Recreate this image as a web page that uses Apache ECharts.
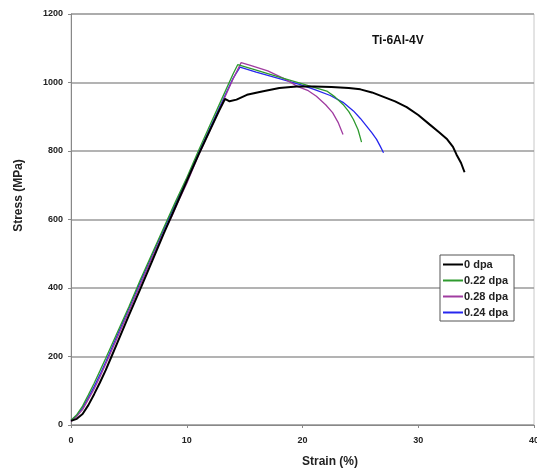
<!DOCTYPE html>
<html>
<head>
<meta charset="utf-8">
<script src="https://cdn.jsdelivr.net/npm/echarts@6/dist/echarts.min.js"></script>
<style>html,body{margin:0;padding:0;background:#fff}#c{width:537px;height:470px}</style>
</head>
<body>
<div id="c"></div>
<script>
var chartTitle = 'Ti-6Al-4V';
var xTitle = 'Strain (%)';
var yTitle = 'Stress (MPa)';
var seriesNames = ['0 dpa', '0.22 dpa', '0.28 dpa', '0.24 dpa'];
var seriesColors = ['#000000', '#2e9a2e', '#a03ca0', '#2626ee'];

var strain0 = [0, 0.5, 1, 1.5, 2, 2.5, 3, 3.5, 4, 5, 6, 7, 8, 9, 10, 11, 12, 12.8, 13.3, 13.7, 14.3, 15.2, 16.5, 18, 19.5, 21, 22.5, 24, 25, 26, 27, 28, 29, 30, 31, 31.8, 32.5, 33, 33.3, 33.7, 34.0];
var stress0 = [12, 18, 32, 58, 90, 124, 160, 200, 240, 320, 398, 478, 558, 635, 712, 788, 860, 918, 952, 945, 950, 964, 974, 984, 988, 988, 987, 984, 980, 971, 958, 945, 928, 905, 877, 855, 834, 812, 790, 765, 738];

var strain1 = [0, 0.5, 1, 1.5, 2, 2.5, 3, 4, 5, 6, 7, 8, 9, 10, 11, 12, 13, 14, 14.4, 16, 18, 20, 21, 22.1, 22.8, 23.5, 24.0, 24.4, 24.8, 25.1];
var stress1 = [14, 30, 55, 88, 122, 158, 195, 270, 345, 425, 500, 575, 650, 722, 800, 875, 950, 1025, 1052, 1036, 1016, 996, 986, 975, 958, 936, 915, 892, 862, 826];

var strain2 = [0, 0.5, 1, 1.5, 2, 2.5, 3, 4, 5, 6, 7, 8, 8.7, 9.3, 10, 11, 12, 13, 14, 14.7, 15.5, 17, 18.5, 19.6, 20.5, 21.2, 22.0, 22.6, 23.1, 23.5];
var stress2 = [10, 25, 45, 75, 105, 140, 178, 255, 332, 410, 488, 562, 608, 655, 705, 786, 860, 935, 1010, 1058, 1050, 1034, 1010, 988, 976, 960, 935, 912, 882, 848];

var strain3 = [0, 0.5, 1, 1.5, 2, 2.5, 3, 4, 5, 6, 7, 8, 9, 10, 11, 12, 13, 14, 14.6, 16, 18, 19.8, 21, 22.4, 23.5, 24.4, 25.0, 25.5, 26.0, 26.4, 26.7, 27.0];
var stress3 = [13, 28, 50, 80, 112, 147, 184, 262, 340, 418, 495, 570, 645, 718, 793, 866, 940, 1012, 1045, 1030, 1011, 994, 980, 962, 942, 917, 895, 874, 853, 834, 815, 795];

var xTicks = [0, 10, 20, 30, 40];
var yTicks = [0, 200, 400, 600, 800, 1000, 1200];

function zip(a, b) { return a.map(function (v, i) { return [v, b[i]]; }); }
var strains = [strain0, strain1, strain2, strain3];
var stresses = [stress0, stress1, stress2, stress3];
var lineWidths = [2, 1.3, 1.3, 1.3];

var chart = echarts.init(document.getElementById('c'));
var FONT = 'Liberation Sans, Arial, sans-serif';
var labelFont = { fontFamily: FONT, fontWeight: 'bold', fontSize: 9, color: '#222' };
chart.setOption({
  animation: false,
  backgroundColor: '#ffffff',
  title: {
    text: chartTitle, left: 367, top: 30,
    textStyle: { fontFamily: FONT, fontWeight: 'bold', fontSize: 12, color: '#111' }
  },
  grid: { left: 71, right: 3, top: 14, bottom: 45, outerBoundsMode: 'none', containLabel: false, show: true, borderColor: '#c8c8c8', borderWidth: 1, backgroundColor: 'transparent' },
  legend: {
    orient: 'vertical', left: 440, top: 255, data: seriesNames,
    icon: 'rect',
    backgroundColor: '#fff', borderColor: '#555', borderWidth: 1, borderRadius: 0,
    padding: [4, 6, 3, 3], itemGap: 5, itemWidth: 20, itemHeight: 2,
    textStyle: { fontFamily: FONT, fontWeight: 'bold', fontSize: 11, color: '#222', padding: [0, 0, 0, -4] }
  },
  xAxis: {
    type: 'value', min: 0, max: 40, interval: 10,
    name: xTitle, nameLocation: 'middle', nameGap: 31,
    nameTextStyle: { fontFamily: FONT, fontWeight: 'bold', fontSize: 12, color: '#222', padding: [0, 0, 0, 55] },
    axisLine: { show: true, lineStyle: { color: '#888', width: 1 } },
    axisTick: { show: true, inside: false, length: 3, lineStyle: { color: '#888' } },
    axisLabel: Object.assign({ margin: 11, hideOverlap: false, showMaxLabel: true, formatter: function (v) { return String(v); } }, labelFont),
    splitLine: { show: false }
  },
  yAxis: {
    type: 'value', min: 0, max: 1200, interval: 200,
    name: yTitle, nameLocation: 'middle', nameGap: 46,
    nameTextStyle: { fontFamily: FONT, fontWeight: 'bold', fontSize: 12, color: '#222', padding: [0, 0, 0, 48] },
    axisLine: { show: true, lineStyle: { color: '#888', width: 1 } },
    axisTick: { show: true, inside: false, length: 3, lineStyle: { color: '#888' } },
    axisLabel: Object.assign({ margin: 8, formatter: function (v) { return String(v); } }, labelFont),
    splitLine: { show: true, lineStyle: { color: '#9a9a9a', width: 1.5 } }
  },
  series: seriesNames.map(function (n, i) {
    return {
      name: n, type: 'line', symbol: 'none', smooth: false,
      data: zip(strains[i], stresses[i]),
      lineStyle: { color: seriesColors[i], width: lineWidths[i] },
      itemStyle: { color: seriesColors[i] },
      z: 10 - i
    };
  })
});
</script>
</body>
</html>
